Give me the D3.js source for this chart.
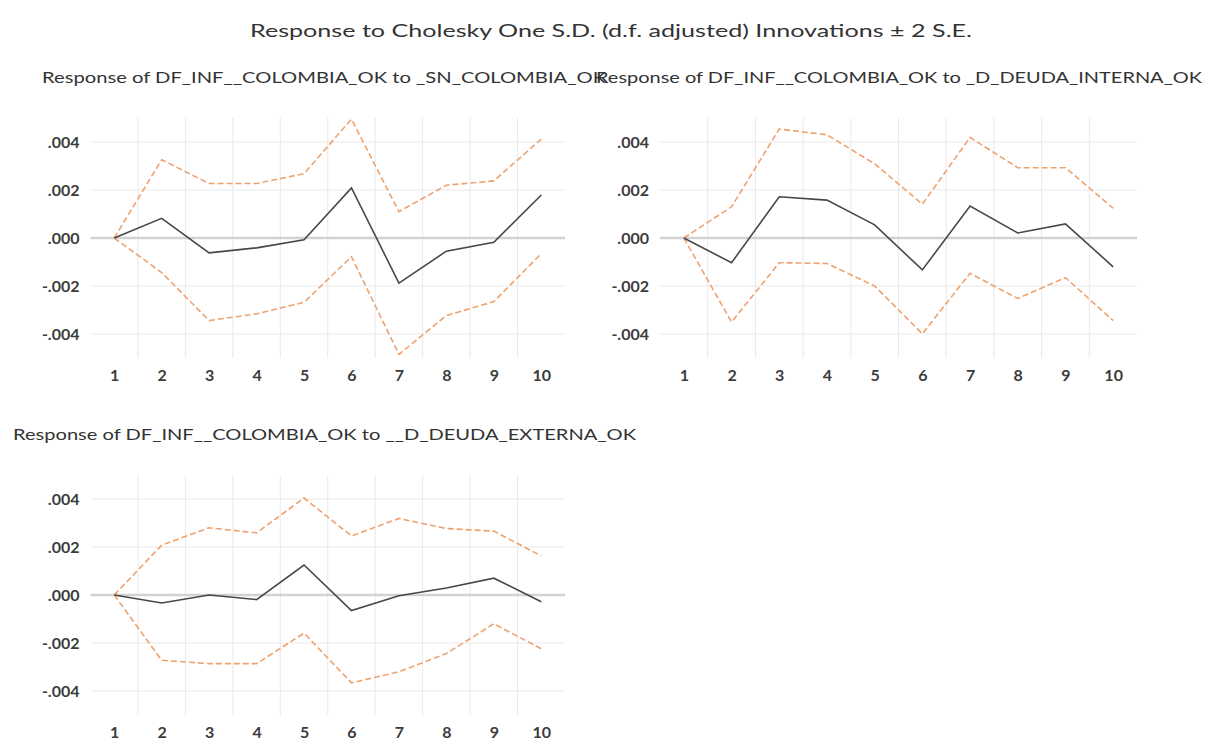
<!DOCTYPE html>
<html>
<head>
<meta charset="utf-8">
<script src="https://cdn.jsdelivr.net/npm/d3@7"></script>
<style>
  html, body { margin: 0; padding: 0; background: #ffffff; }
  svg { display: block; font-family: Lato, "Open Sans", sans-serif; }
</style>
</head>
<body>
<svg id="chart" width="1207" height="740"></svg>
<script>
// Impulse-response horizon (periods after the shock)
const periods = [1, 2, 3, 4, 5, 6, 7, 8, 9, 10];
const yTickValues = [-0.004, -0.002, 0, 0.002, 0.004];

const mainTitle = "Response to Cholesky One S.D. (d.f. adjusted) Innovations \u00B1 2 S.E.";
const panelTitles = [
  "Response of DF_INF__COLOMBIA_OK to _SN_COLOMBIA_OK",
  "Response of DF_INF__COLOMBIA_OK to _D_DEUDA_INTERNA_OK",
  "Response of DF_INF__COLOMBIA_OK to __D_DEUDA_EXTERNA_OK"
];

// Shock: _SN_COLOMBIA_OK
const respSN  = [0, 0.00082, -0.00062, -0.00041, -0.00007, 0.00209, -0.00188, -0.00055, -0.00018, 0.00179];
const upperSN = [0, 0.00326, 0.00227, 0.00227, 0.00268, 0.00495, 0.00110, 0.00220, 0.00238, 0.00412];
const lowerSN = [0, -0.00144, -0.00344, -0.00316, -0.00268, -0.00078, -0.00485, -0.00323, -0.00265, -0.00065];

// Shock: _D_DEUDA_INTERNA_OK
const respInt  = [0, -0.00103, 0.00172, 0.00158, 0.00055, -0.00133, 0.00133, 0.00021, 0.00059, -0.00120];
const upperInt = [0, 0.00130, 0.00454, 0.00430, 0.00309, 0.00141, 0.00419, 0.00293, 0.00293, 0.00124];
const lowerInt = [0, -0.00350, -0.00103, -0.00106, -0.00200, -0.00399, -0.00147, -0.00252, -0.00165, -0.00344];

// Shock: __D_DEUDA_EXTERNA_OK
const respExt  = [0, -0.00033, 0.00000, -0.00019, 0.00125, -0.00065, -0.00003, 0.00029, 0.00070, -0.00028];
const upperExt = [0, 0.00208, 0.00280, 0.00259, 0.00404, 0.00246, 0.00319, 0.00277, 0.00266, 0.00163];
const lowerExt = [0, -0.00272, -0.00286, -0.00286, -0.00159, -0.00366, -0.00320, -0.00244, -0.00120, -0.00224];

const svg = d3.select("#chart");

const COLORS = {
  text: "#333333",
  tick: "#3c3c3c",
  grid: "#e9e9e9",
  zero: "#d2d2d2",
  resp: "#474747",
  band: "#eea26e"
};

// Main title
svg.append("text")
  .attr("x", 611).attr("y", 37)
  .attr("text-anchor", "middle")
  .attr("font-size", 17)
  .attr("fill", COLORS.text)
  .attr("textLength", 722)
  .attr("lengthAdjust", "spacingAndGlyphs")
  .text(mainTitle);

const panels = [
  { title: panelTitles[0], titleX: 42, titleY: 83, titleW: 564,
    x0: 90.5, x1: 565, top: 118, bottom: 358,
    resp: respSN, upper: upperSN, lower: lowerSN },
  { title: panelTitles[1], titleX: 596, titleY: 83, titleW: 606,
    x0: 660, x1: 1137, top: 118, bottom: 358,
    resp: respInt, upper: upperInt, lower: lowerInt },
  { title: panelTitles[2], titleX: 13, titleY: 440, titleW: 623,
    x0: 90.5, x1: 565, top: 475, bottom: 715,
    resp: respExt, upper: upperExt, lower: lowerExt }
];

const fmt = v => {
  const s = d3.format(".3f")(Math.abs(v)).replace(/^0/, "");
  return (v < 0 ? "-" : "") + s;
};

panels.forEach(p => {
  const x = d3.scaleLinear().domain([0.5, 10.5]).range([p.x0, p.x1]);
  const y = d3.scaleLinear().domain([-0.005, 0.005]).range([p.bottom, p.top]);
  const g = svg.append("g");

  // vertical grid between periods
  g.append("g").selectAll("line")
    .data(d3.range(1.5, 10, 1))
    .join("line")
    .attr("x1", d => x(d)).attr("x2", d => x(d))
    .attr("y1", p.top).attr("y2", p.bottom)
    .attr("stroke", COLORS.grid).attr("stroke-width", 1);

  // horizontal grid at the tick values, heavier at zero
  g.append("g").selectAll("line")
    .data(yTickValues)
    .join("line")
    .attr("x1", x(0.5)).attr("x2", x(10.5))
    .attr("y1", d => y(d)).attr("y2", d => y(d))
    .attr("stroke", d => d === 0 ? COLORS.zero : COLORS.grid)
    .attr("stroke-width", d => d === 0 ? 2.5 : 1);

  // axes (labels only)
  const yAxis = d3.axisLeft(y).tickValues(yTickValues).tickFormat(fmt)
    .tickSize(0).tickPadding(11);
  const ya = g.append("g").attr("transform", `translate(${p.x0},0)`).call(yAxis);
  const xAxis = d3.axisBottom(x).tickValues(periods).tickFormat(d3.format("d"))
    .tickSize(0).tickPadding(12);
  const xa = g.append("g").attr("transform", `translate(0,${p.bottom})`).call(xAxis);
  [ya, xa].forEach(a => {
    a.select(".domain").remove();
    a.selectAll("text")
      .attr("font-family", "Lato, 'Open Sans', sans-serif")
      .attr("font-size", 16)
      .attr("font-weight", 700)
      .attr("fill", COLORS.tick);
  });

  const line = d3.line().x((d, i) => x(periods[i])).y(d => y(d));

  g.append("path").datum(p.upper)
    .attr("d", line).attr("fill", "none")
    .attr("stroke", COLORS.band).attr("stroke-width", 1.6)
    .attr("stroke-dasharray", "6,3");
  g.append("path").datum(p.lower)
    .attr("d", line).attr("fill", "none")
    .attr("stroke", COLORS.band).attr("stroke-width", 1.6)
    .attr("stroke-dasharray", "6,3");
  g.append("path").datum(p.resp)
    .attr("d", line).attr("fill", "none")
    .attr("stroke", COLORS.resp).attr("stroke-width", 1.6);

  // panel title
  svg.append("text")
    .attr("x", p.titleX).attr("y", p.titleY)
    .attr("font-size", 16)
    .attr("fill", COLORS.text)
    .attr("textLength", p.titleW)
    .attr("lengthAdjust", "spacingAndGlyphs")
    .text(p.title);
});
</script>
</body>
</html>
